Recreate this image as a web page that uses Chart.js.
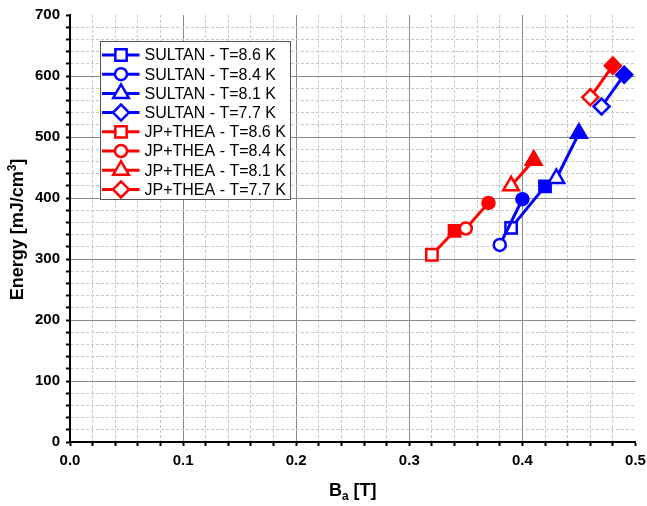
<!DOCTYPE html>
<html>
<head>
<meta charset="utf-8">
<script src="https://cdn.jsdelivr.net/npm/chart.js@4/dist/chart.umd.min.js"></script>
<style>
  html, body { margin: 0; padding: 0; background: #fff; }
  #wrap { width: 647px; height: 506px; }
</style>
</head>
<body>
<div id="wrap"><canvas id="chart" width="647" height="506"></canvas></div>
<script>
// Stored energy vs applied field for two test facilities, one run per temperature.
// Each run is a pair of points: first (open marker) and second (filled marker).
const temperatures = ["8.6", "8.4", "8.1", "7.7"];
const markerShapes = ["rect", "circle", "triangle", "rectRot"];
const markerRadius = [8, 6, 9, 8];

const sultanField = [[0.39, 0.42], [0.38, 0.40], [0.43, 0.45], [0.47, 0.49]];
const sultanEnergy = [[351, 419], [323, 398], [432, 506], [550, 602]];

const jpTheaField = [[0.32, 0.34], [0.35, 0.37], [0.39, 0.41], [0.46, 0.48]];
const jpTheaEnergy = [[307, 346], [350, 392], [420, 462], [565, 617]];

const xTicks = [0.0, 0.1, 0.2, 0.3, 0.4, 0.5];
const yTicks = [0, 100, 200, 300, 400, 500, 600, 700];
const xMinorStep = 0.02;
const yMinorStep = 20;

const BLUE = "#0000ff";
const RED = "#ff0000";
const FONT = "'Liberation Sans', Arial, sans-serif";

function seriesFor(name, color, fields, energies) {
  return fields.map((xs, i) => ({
    label: `${name} - T=${temperatures[i]} K`,
    data: xs.map((x, j) => ({ x, y: energies[i][j] })),
    showLine: true,
    borderColor: color,
    backgroundColor: color,
    borderWidth: 3,
    pointStyle: markerShapes[i],
    pointRadius: markerRadius[i],
    pointHoverRadius: markerRadius[i],
    pointBorderWidth: 2.5,
    pointBorderColor: color,
    pointBackgroundColor: ["#ffffff", color],
    tension: 0
  }));
}

const datasets = [
  ...seriesFor("SULTAN", BLUE, sultanField, sultanEnergy),
  ...seriesFor("JP+THEA", RED, jpTheaField, jpTheaEnergy)
];
// later runs drawn on top
datasets.forEach((d, i) => { d.order = datasets.length - i; });

const near = (v, t) => Math.abs(v - t) < 1e-6;
const isTick = (v, list) => list.some((t) => near(v, t));

function gridFor(majors) {
  const top = majors[majors.length - 1];
  return {
    color: (c) => {
      if (!c.tick) return "#c8c8c8";
      if (near(c.tick.value, top)) return "rgba(0,0,0,0)";
      return isTick(c.tick.value, majors) ? "#8a8a8a" : "#c8c8c8";
    },
    lineWidth: 1,
    tickColor: "#000",
    tickWidth: 2,
    tickLength: 4
  };
}

function borderFor(majors) {
  return {
    color: "#000",
    width: 2,
    dash: (c) => (c.tick && !isTick(c.tick.value, majors) ? [3, 2] : [])
  };
}

// axis titles and the boxed legend are painted after the datasets
const decorations = {
  id: "decorations",
  afterDraw(chart) {
    const ctx = chart.ctx;
    const area = chart.chartArea;
    ctx.save();
    ctx.fillStyle = "#000";
    ctx.textBaseline = "alphabetic";

    // x title: B with subscript a
    const big = `bold 18px ${FONT}`;
    const small = `bold 12px ${FONT}`;
    ctx.font = big;
    const wB = ctx.measureText("B").width;
    const wT = ctx.measureText(" [T]").width;
    ctx.font = small;
    const wa = ctx.measureText("a").width;
    let x = (area.left + area.right) / 2 - (wB + wa + wT) / 2;
    const yBase = 496;
    ctx.font = big; ctx.fillText("B", x, yBase); x += wB;
    ctx.font = small; ctx.fillText("a", x, yBase + 4); x += wa;
    ctx.font = big; ctx.fillText(" [T]", x, yBase);

    // y title with superscript 3
    ctx.save();
    ctx.translate(22.5, (area.top + area.bottom) / 2 + 1);
    ctx.rotate(-Math.PI / 2);
    ctx.font = big;
    const w1 = ctx.measureText("Energy [mJ/cm").width;
    const w3 = ctx.measureText("]").width;
    ctx.font = small;
    const w2 = ctx.measureText("3").width;
    let t = -(w1 + w2 + w3) / 2;
    ctx.font = big; ctx.fillText("Energy [mJ/cm", t, 0); t += w1;
    ctx.font = small; ctx.fillText("3", t, -7); t += w2;
    ctx.font = big; ctx.fillText("]", t, 0);
    ctx.restore();

    // legend box
    const left = area.left + 30.5;
    const top = area.top + 26.5;
    const rowH = 19.2;
    ctx.fillStyle = "#fff";
    ctx.fillRect(left, top, 190, 158);
    ctx.strokeStyle = "#555";
    ctx.lineWidth = 1;
    ctx.strokeRect(left, top, 190, 158);

    chart.data.datasets.forEach((d, i) => {
      const y = top + 13.5 + i * rowH;
      ctx.strokeStyle = d.borderColor;
      ctx.lineWidth = 3;
      ctx.beginPath();
      ctx.moveTo(left + 1.5, y);
      ctx.lineTo(left + 39, y);
      ctx.stroke();
      ctx.lineWidth = 2.5;
      ctx.fillStyle = "#fff";
      Chart.helpers.drawPoint(ctx, {
        pointStyle: d.pointStyle,
        radius: d.pointRadius,
        borderWidth: 2.5,
        rotation: 0
      }, left + 20.5, y);
      ctx.fillStyle = "#000";
      ctx.font = `16px ${FONT}`;
      ctx.textBaseline = "middle";
      ctx.fillText(d.label, left + 44, y + 1);
    });
    ctx.restore();
  }
};

new Chart(document.getElementById("chart"), {
  type: "scatter",
  data: { datasets },
  plugins: [decorations],
  options: {
    responsive: false,
    animation: false,
    events: [],
    layout: { padding: { top: 15, right: 6, left: 0, bottom: 0 } },
    plugins: { legend: { display: false }, tooltip: { enabled: false } },
    scales: {
      x: {
        type: "linear",
        min: xTicks[0],
        max: xTicks[xTicks.length - 1],
        afterFit: (s) => { s.height = 64; s.paddingRight = 0; },
        ticks: {
          stepSize: xMinorStep,
          autoSkip: false,
          maxRotation: 0,
          padding: 6,
          color: "#000",
          font: { family: FONT, size: 15, weight: "bold" },
          callback: (v) => (isTick(v, xTicks) ? Number(v).toFixed(1) : "")
        },
        grid: gridFor(xTicks),
        border: borderFor(xTicks)
      },
      y: {
        min: yTicks[0],
        max: yTicks[yTicks.length - 1],
        afterFit: (s) => { s.width = 70; },
        ticks: {
          stepSize: yMinorStep,
          autoSkip: false,
          padding: 6,
          color: "#000",
          font: { family: FONT, size: 15, weight: "bold" },
          callback: (v) => (isTick(v, yTicks) ? String(Math.round(v)) : "")
        },
        grid: gridFor(yTicks),
        border: borderFor(yTicks)
      }
    }
  }
});
</script>
</body>
</html>
